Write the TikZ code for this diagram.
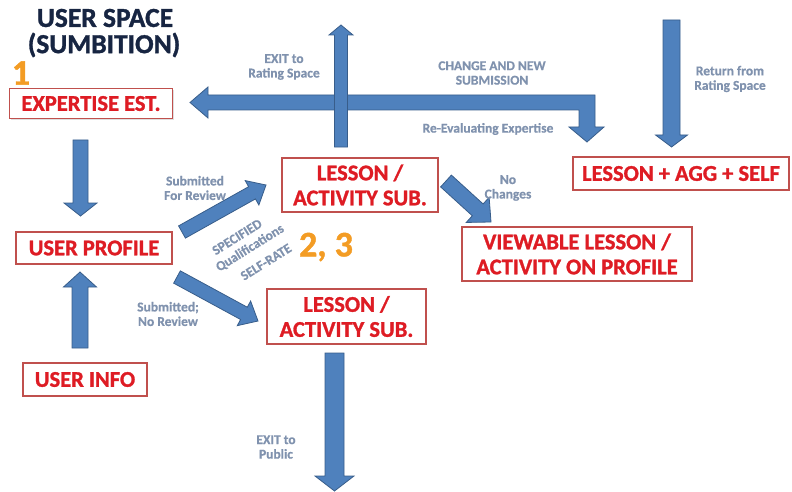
\documentclass[tikz,border=0pt]{standalone}
\usepackage{fontspec}
\setmainfont{Carlito}
\newfontfamily\heavy[FakeBold=1.2]{Carlito Bold}
\newfontfamily\semiheavy[FakeBold=0.6]{Carlito Bold}
\usetikzlibrary{calc,shadows}
\definecolor{boxred}{RGB}{192,80,77}
\definecolor{txtred}{RGB}{222,28,36}
\definecolor{afill}{RGB}{79,129,189}
\definecolor{aedge}{RGB}{56,93,138}
\definecolor{lbl}{RGB}{128,146,174}
\definecolor{navy}{RGB}{23,37,66}
\definecolor{orng}{RGB}{243,156,36}
\newcommand\blockarrow[5]{%
  \coordinate (hb) at ($(#2)!#5!(#1)$);
  \filldraw[arrowshape] ($(#1)!#3!90:(#2)$) -- ($(hb)!#3!-90:(#1)$) -- ($(hb)!#4!-90:(#1)$) -- (#2) -- ($(hb)!#4!90:(#1)$) -- ($(hb)!#3!90:(#1)$) -- ($(#1)!#3!-90:(#2)$) -- cycle;}
\tikzset{
  redbox/.style={draw=boxred, line width=1.3pt, fill=white, text=txtred, inner sep=0pt, align=center,
    font=\fontsize{22.5}{25}\selectfont\heavy, drop shadow={shadow xshift=1.2pt, shadow yshift=-1.2pt, opacity=0.25}},
  arrowshape/.style={fill=afill, draw=aedge, line width=0.8pt, line join=miter},
  lab/.style={text=lbl, align=center, inner sep=0pt, font=\fontsize{13.5}{14.5}\selectfont\semiheavy},
  titletext/.style={text=navy, inner sep=0pt, font=\fontsize{27.5}{28}\selectfont\heavy},
  bignum/.style={text=orng, inner sep=0pt, font=\fontsize{36}{36}\selectfont\heavy}
}
\begin{document}
\begin{tikzpicture}[x=1pt,y=-1pt]
\useasboundingbox (0,0) rectangle (792,492);
% title and numbers
\node[titletext] (t1) at (105,18) {USER SPACE};
\node[titletext] (t2) at (104,45) {(SUMBITION)};
\node[bignum] (n1) at (21,73) {1};
\node[bignum] (n23) at (326,247) {2, 3};
% L-shaped arrow (EXIT / CHANGE AND NEW SUBMISSION)
\filldraw[arrowshape] (190,102.5) -- (208,87) -- (208,95) -- (595,95) -- (595,127) -- (604,127) -- (587,142)
  -- (569,127) -- (579,127) -- (579,110) -- (208,110) -- (208,118) -- cycle;
% boxes
\node[redbox, minimum width=163pt, minimum height=30pt] (exp) at (91,103.5) {EXPERTISE EST.};
\node[redbox, minimum width=156pt, minimum height=32pt] (prof) at (94,248) {USER PROFILE};
\node[redbox, minimum width=124pt, minimum height=33pt] (info) at (85,379.5) {USER INFO};
\node[redbox, minimum width=156pt, minimum height=54pt] (les1) at (360,185) {LESSON /\\ACTIVITY SUB.};
\node[redbox, minimum width=159pt, minimum height=55pt] (les2) at (346.5,316.5) {LESSON /\\ACTIVITY SUB.};
\node[redbox, minimum width=230pt, minimum height=54pt] (view) at (577,254) {VIEWABLE LESSON /\\ACTIVITY ON PROFILE};
\node[redbox, minimum width=216pt, minimum height=33pt] (agg) at (681,173.5) {LESSON + AGG + SELF};
% arrow end points
\coordinate (a1s) at (80.5,140); \coordinate (a1e) at (80.5,216);
\coordinate (a2s) at (80,348);   \coordinate (a2e) at (80,272);
\coordinate (a3s) at (182,232);  \coordinate (a3e) at (266,185);
\coordinate (a4s) at (177,277);  \coordinate (a4e) at (258,321);
\coordinate (a5s) at (341,147);  \coordinate (a5e) at (341,25);
\coordinate (a6s) at (334.5,353); \coordinate (a6e) at (334.5,491);
\coordinate (a7s) at (671.5,20); \coordinate (a7e) at (671.5,147);
\coordinate (a8s) at (446,181);  \coordinate (a8e) at (491,222);
\blockarrow{a1s}{a1e}{7.5pt}{16.5pt}{13pt}
\blockarrow{a2s}{a2e}{8pt}{16.5pt}{15pt}
\blockarrow{a3s}{a3e}{7pt}{14pt}{16pt}
\blockarrow{a4s}{a4e}{7pt}{14pt}{16pt}
\blockarrow{a5s}{a5e}{6.5pt}{12pt}{10pt}
\blockarrow{a6s}{a6e}{9.5pt}{19.5pt}{15pt}
\blockarrow{a7s}{a7e}{8.5pt}{16pt}{12pt}
\blockarrow{a8s}{a8e}{8pt}{17pt}{18pt}
% labels
\node[lab] (l1) at (284,67) {EXIT to\\Rating Space};
\node[lab] (l2) at (492,73) {CHANGE AND NEW\\SUBMISSION};
\node[lab] (l3) at (488,129) {Re-Evaluating Expertise};
\node[lab] (l4) at (730,79) {Return from\\Rating Space};
\node[lab] (l5) at (195,188) {Submitted\\For Review};
\node[lab] (l6) at (508,188) {No\\Changes};
\node[lab] (l7) at (168,314) {Submitted;\\No Review};
\node[lab] (l8) at (276,447) {EXIT to\\Public};
\node[lab, rotate=32] (l9a) at (237,237) {SPECIFIED};
\node[lab, rotate=32] (l9b) at (250,248) {Qualifications};
\node[lab, rotate=32] (l9c) at (266,262) {SELF-RATE};
\end{tikzpicture}
\end{document}
